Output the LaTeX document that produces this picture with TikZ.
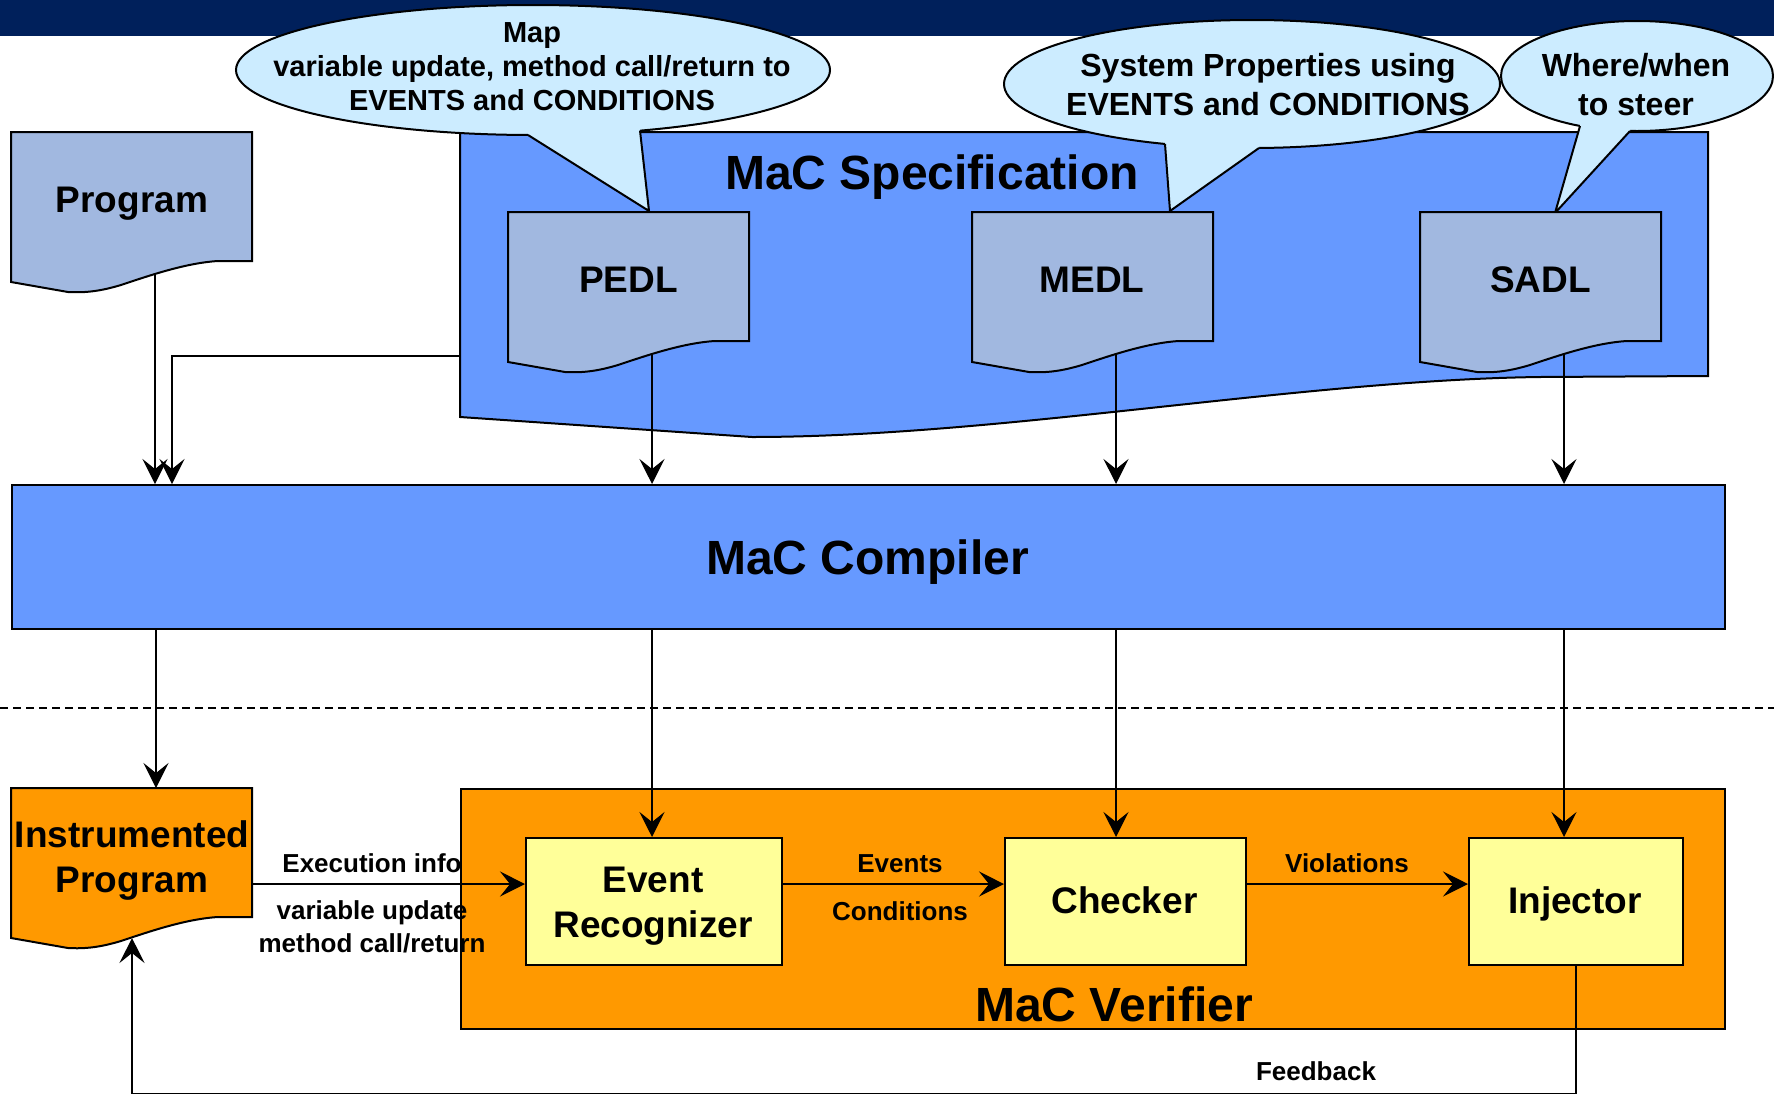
\documentclass[tikz,border=0pt]{standalone}
\usepackage{fontspec}
\setmainfont{Liberation Sans}
\usetikzlibrary{arrows.meta}
\definecolor{banner}{RGB}{0,32,91}
\definecolor{specblue}{RGB}{102,153,255}
\definecolor{docblue}{RGB}{161,184,224}
\definecolor{bubble}{RGB}{204,236,255}
\definecolor{vorange}{RGB}{255,153,0}
\definecolor{vyellow}{RGB}{255,255,153}
\newcommand{\fs}[2]{\fontsize{#1}{#2}\selectfont\bfseries}
\tikzset{
  outline/.style={draw=black, line width=2pt},
  conn/.style={draw=black, line width=1.4pt},
  arr/.style={conn, -{Stealth[length=25pt, width=25pt, inset=10pt]}},
  txt/.style={inner sep=0pt, anchor=base, align=center},
  bigtxt/.style={txt, font=\fs{48}{58}},
  midtxt/.style={txt, font=\fs{37}{45}},
  smalltxt/.style={txt, font=\fs{26}{33}},
  bubtxt/.style={txt, font=\fs{32}{39}},
  box/.style={outline, rectangle, inner sep=0pt, anchor=north west},
}
\newcommand{\docshape}[4]{%
  \filldraw[outline, fill=#4, shift={(#2,#3)}] (0,0) -- (241,0) -- (241,129) -- (207,129)
    .. controls (175,131) and (140,143) .. (110,153)
    .. controls (90,159) and (75,161) .. (57,160) -- (0,150) -- cycle;
  \coordinate (#1-top) at (#2+145,#3);
  \coordinate (#1-out) at (#2+144,#3+142.5);
  \coordinate (#1-in) at (#2+121,#3+150);
  \coordinate (#1-east) at (#2+241,#3+96);}
\begin{document}
\begin{tikzpicture}[x=1pt,y=-1pt]
\useasboundingbox (0,0) rectangle (1774,1095);
\fill[white] (0,0) rectangle (1774,1095);
\fill[banner] (0,0) rectangle (1774,36);

% MaC Specification region
\filldraw[outline, fill=specblue] (460,132) -- (1708,132) -- (1708,376) -- (1540,377)
  .. controls (1300,380) and (1000,437) .. (752,437) -- (460,417) -- cycle;
\coordinate (spec-west) at (460,356);
\node[bigtxt] (spec) at (932,189) {MaC Specification};

% callout 1
\filldraw[outline, fill=bubble] (533,70) ellipse [x radius=297pt, y radius=65pt];
\fill[bubble] (528,118) -- (528,135) -- (649,211) -- (640,130.5) -- (640,118) -- cycle;
\draw[outline] (528,135) -- (649,211) -- (640,130.5);
\node[txt, font=\fs{29}{34}] (map) at (532,110) {Map\\variable update, method call/return to\\EVENTS and CONDITIONS};

% callout 2
\filldraw[outline, fill=bubble] (1252,84) ellipse [x radius=248pt, y radius=64pt];
\fill[bubble] (1165,130) -- (1165,144) -- (1170,211) -- (1259,148) -- (1259,130) -- cycle;
\draw[outline] (1165,144) -- (1170,211) -- (1259,148);
\node[bubtxt] (sysprop) at (1268,115) {System Properties using\\EVENTS and CONDITIONS};

% callout 3
\filldraw[outline, fill=bubble] (1637,76) ellipse [x radius=136pt, y radius=55pt];
\fill[bubble] (1580,112) -- (1580,126) -- (1555,213) -- (1630,131) -- (1630,112) -- cycle;
\draw[outline] (1580,126) -- (1555,213) -- (1630,131);
\node[bubtxt] (steer) at (1636,115) {Where/when\\to steer};

% documents
\docshape{prog}{11}{132}{docblue}
\node[midtxt] (program) at (132,212) {Program};
\docshape{pedl}{508}{212}{docblue}
\node[midtxt] (pedltxt) at (628.5,292) {PEDL};
\docshape{medl}{972}{212}{docblue}
\node[midtxt] (medltxt) at (1092,292) {MEDL};
\docshape{sadl}{1420}{212}{docblue}
\node[midtxt] (sadltxt) at (1540.5,292) {SADL};

% compiler
\node[box, fill=specblue, minimum width=1713pt, minimum height=144pt] (comp) at (11,484) {};
\node[bigtxt] (comptxt) at (867.5,574) {MaC Compiler};

% separator
\draw[line width=2pt, dash pattern=on 8pt off 5pt] (0,708) -- (1774,708);

% verifier
\node[box, fill=vorange, minimum width=1264pt, minimum height=240pt] (ver) at (460,788) {};
\node[bigtxt] (vertxt) at (1114,1021) {MaC Verifier};
\docshape{inst}{11}{788}{vorange}
\node[midtxt] (insttxt) at (132,892) {Instrumented\\Program};
\node[box, fill=vyellow, minimum width=256pt, minimum height=127pt] (er) at (525,837) {};
\node[midtxt] (ertxt) at (653,937) {Event\\Recognizer};
\node[box, fill=vyellow, minimum width=241pt, minimum height=127pt] (chk) at (1004,837) {};
\node[midtxt] (chktxt) at (1124.5,913) {Checker};
\node[box, fill=vyellow, minimum width=214pt, minimum height=127pt] (inj) at (1468,837) {};
\node[midtxt] (injtxt) at (1575,913) {Injector};

% connectors to compiler
\draw[arr] (prog-out) -- (prog-out |- comp.north);
\draw[arr] (spec-west) -| ([xshift=161pt]comp.north west);
\draw[arr] (pedl-out) -- (pedl-out |- comp.north);
\draw[arr] (medl-out) -- (medl-out |- comp.north);
\draw[arr] (sadl-out) -- (sadl-out |- comp.north);

% connectors from compiler
\draw[arr] (inst-top |- comp.south) -- (inst-top);
\draw[arr] (pedl-out |- comp.south) -- (pedl-out |- er.north);
\draw[arr] (medl-out |- comp.south) -- (medl-out |- chk.north);
\draw[arr] (sadl-out |- comp.south) -- (sadl-out |- inj.north);

% data flow
\draw[arr] (inst-east) -- (inst-east -| er.west);
\draw[arr] (inst-east -| er.east) -- (inst-east -| chk.west);
\draw[arr] (inst-east -| chk.east) -- (inst-east -| inj.west);
\coordinate (fb-level) at (0,1093.5);
\draw[arr] (inj.south) -- (inj.south |- fb-level) -| (inst-in);

% labels
\node[smalltxt] (exec) at (372,872) {Execution info};
\node[smalltxt] (varupd) at (372,952) {variable update\\method call/return};
\node[smalltxt] (events) at (900,872) {Events};
\node[smalltxt] (conds) at (900,920) {Conditions};
\node[smalltxt] (viol) at (1347,872) {Violations};
\node[smalltxt] (fb) at (1316,1080) {Feedback};
\end{tikzpicture}
\end{document}
